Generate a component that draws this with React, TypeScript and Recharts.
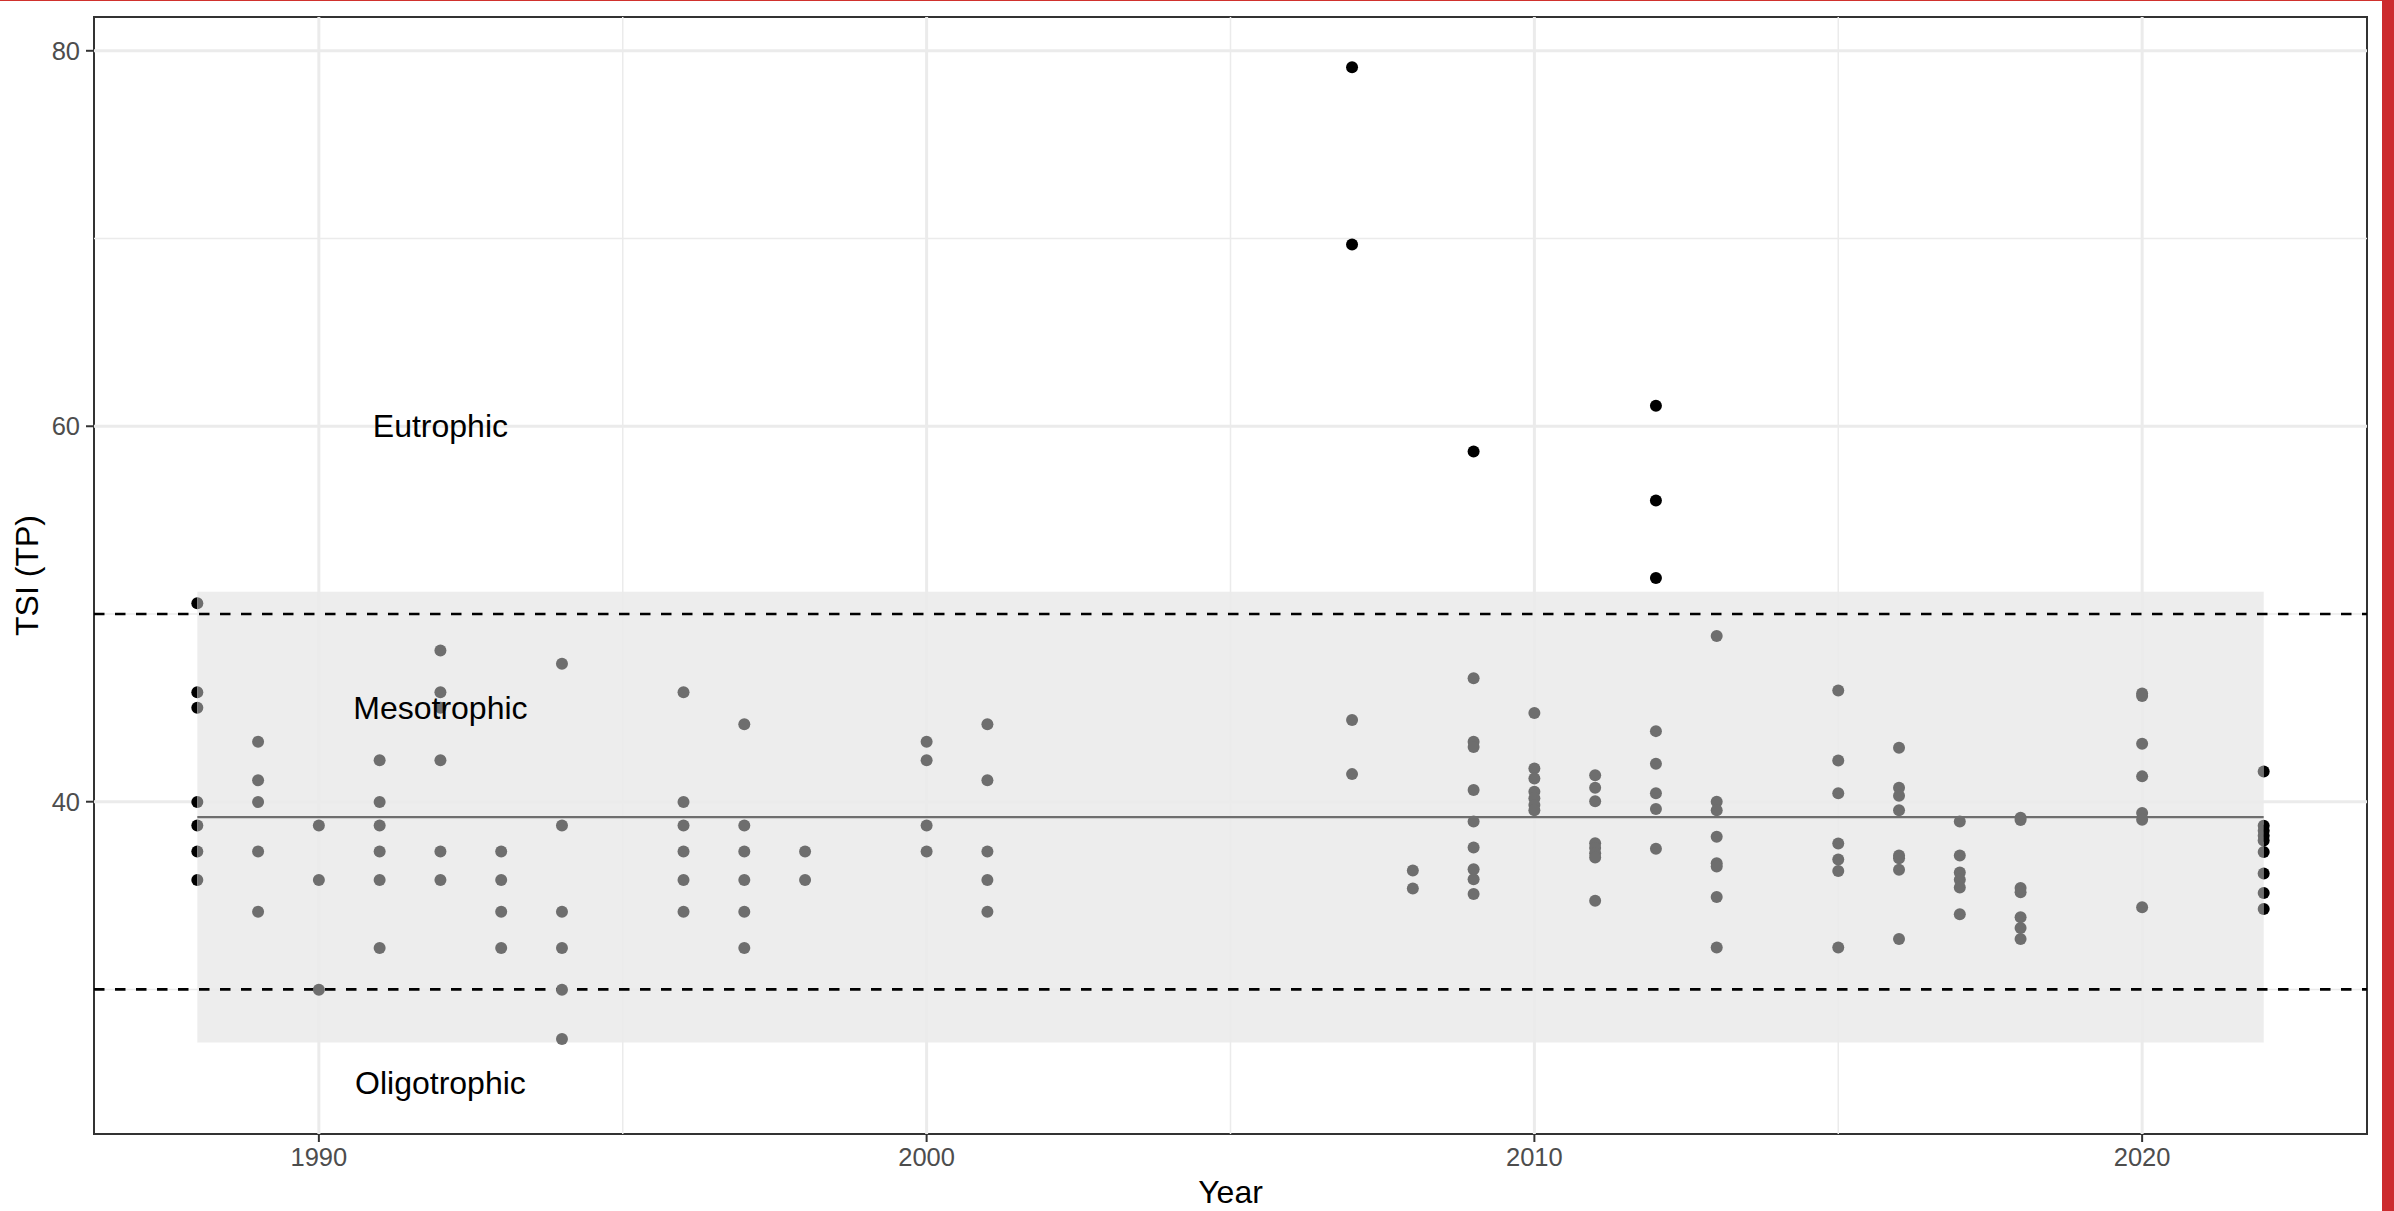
import React from 'react';
import { ScatterChart, Scatter, XAxis, YAxis, ReferenceLine, ReferenceArea, Label } from 'recharts';

// sampling years and the TSI (TP) readings for each one
const sampleYears = [1988, 1989, 1990, 1991, 1992, 1993, 1994, 1996, 1997, 1998, 2000, 2001, 2007, 2008, 2009, 2010, 2011, 2012, 2013, 2015, 2016, 2017, 2018, 2020, 2022];
const tsiByYear: number[][] = [
  [50.57, 45.83, 45.01, 39.98, 38.73, 37.35, 35.83],
  [43.2, 41.14, 39.98, 37.35, 34.14],
  [38.73, 35.83, 29.99],
  [42.21, 39.98, 38.73, 37.35, 35.83, 32.21],
  [48.05, 45.83, 45.01, 42.21, 37.35, 35.83],
  [37.35, 35.83, 34.14, 32.21],
  [47.35, 38.73, 34.14, 32.21, 29.99, 27.36],
  [45.83, 39.98, 38.73, 37.35, 35.83, 34.14],
  [44.13, 38.73, 37.35, 35.83, 34.14, 32.21],
  [37.35, 35.83],
  [43.2, 42.21, 38.73, 37.35],
  [44.13, 41.14, 37.35, 35.83, 34.14],
  [79.12, 69.68, 44.35, 41.47],
  [36.33, 35.38],
  [58.65, 46.58, 43.19, 42.92, 40.62, 38.94, 37.56, 36.4, 35.87, 35.09],
  [44.73, 41.77, 41.24, 40.53, 40.18, 39.82, 39.55],
  [41.41, 40.74, 40.03, 37.79, 37.53, 37.26, 37.03, 34.72],
  [61.09, 56.04, 51.92, 43.76, 42.02, 40.45, 39.61, 37.5],
  [48.83, 40.0, 39.55, 38.14, 36.72, 36.55, 34.92, 32.23],
  [45.92, 42.19, 40.45, 37.78, 36.92, 36.31, 32.23],
  [42.87, 40.74, 40.32, 39.55, 37.13, 36.99, 36.37, 32.69],
  [38.94, 37.13, 36.23, 35.84, 35.43, 34.01],
  [39.15, 39.02, 35.4, 35.18, 33.84, 33.27, 32.69],
  [45.77, 45.63, 43.09, 41.35, 39.4, 39.04, 34.38],
  [41.61, 38.72, 38.46, 38.19, 37.94, 37.32, 36.17, 35.14, 34.29],
];

const zoneNames = ['Eutrophic', 'Mesotrophic', 'Oligotrophic'];
const zoneTsi = [60, 45, 25];
const zoneYear = 1992;

const tsiMean = 39.18;
const bandLow = 27.18;
const bandHigh = 51.18;
const bandYears = [1988, 2022];
const thresholds = [50, 30];

const yearTicks = [1990, 2000, 2010, 2020];
const yearMinor = [1995, 2005, 2015];
const tsiTicks = [40, 60, 80];
const tsiMinor = [30, 50, 70];
const yearDomain = [1986.3, 2023.7];
const tsiDomain = [22.3, 81.8];

const points = sampleYears.flatMap((year, i) => tsiByYear[i].map((tsi) => ({ year, tsi })));
const zoneLabels = zoneNames.map((name, i) => ({ year: zoneYear, tsi: zoneTsi[i], name }));

const FONT = '"Liberation Sans", Arial, sans-serif';
const GRID = '#EBEBEB';
const SHADED = '#6E6E6E'; // black seen through the half-transparent band
const R = 6;

// the band sits over the points: inside it they read grey, and the points on
// its left/right edge are only half covered
function Dot(p: any) {
  const { cx, cy, payload } = p;
  const covered = payload.tsi >= bandLow && payload.tsi <= bandHigh;
  if (!covered) return <circle cx={cx} cy={cy} r={R} fill="#000" />;
  const left = `M${cx},${cy - R} A${R},${R} 0 0 0 ${cx},${cy + R} Z`;
  const right = `M${cx},${cy - R} A${R},${R} 0 0 1 ${cx},${cy + R} Z`;
  if (payload.year === bandYears[0]) {
    return (
      <g>
        <path d={left} fill="#000" />
        <path d={right} fill={SHADED} />
      </g>
    );
  }
  if (payload.year === bandYears[1]) {
    return (
      <g>
        <path d={left} fill={SHADED} />
        <path d={right} fill="#000" />
      </g>
    );
  }
  return <circle cx={cx} cy={cy} r={R} fill={SHADED} />;
}

export default function App() {
  return (
    <div style={{ position: 'absolute', left: 0, top: 0, width: 2394, height: 1211, background: '#fff' }}>
      <div style={{ position: 'absolute', left: 0, top: 0, width: 2382, height: 1, background: '#D0312D' }} />
      <div style={{ position: 'absolute', right: 0, top: 0, width: 12, height: 1211, background: '#CC2B2E' }} />
      <ScatterChart width={2394} height={1211} margin={{ top: 17, right: 27, bottom: 0, left: 0 }}>
        {yearMinor.map((y) => (
          <ReferenceLine key={'xm' + y} x={y} stroke={GRID} strokeWidth={1.5} />
        ))}
        {tsiMinor.map((v) => (
          <ReferenceLine key={'ym' + v} y={v} stroke={GRID} strokeWidth={1.5} />
        ))}
        {yearTicks.map((y) => (
          <ReferenceLine key={'xM' + y} x={y} stroke={GRID} strokeWidth={3} />
        ))}
        {tsiTicks.map((v) => (
          <ReferenceLine key={'yM' + v} y={v} stroke={GRID} strokeWidth={3} />
        ))}
        <XAxis
          type="number"
          dataKey="year"
          domain={yearDomain}
          ticks={yearTicks}
          allowDataOverflow
          height={77}
          axisLine={false}
          tickSize={8}
          tickMargin={6}
          tickLine={{ stroke: '#333333', strokeWidth: 2 }}
          tick={{ fill: '#4D4D4D', fontSize: 25.5, fontFamily: FONT }}
        >
          <Label
            content={({ viewBox }: any) => (
              <text x={viewBox.x + viewBox.width / 2} y={viewBox.y + 69} textAnchor="middle" fontSize={32} fontFamily={FONT} fill="#000">
                Year
              </text>
            )}
          />
        </XAxis>
        <YAxis
          type="number"
          dataKey="tsi"
          domain={tsiDomain}
          ticks={tsiTicks}
          allowDataOverflow
          width={94}
          axisLine={false}
          tickSize={8}
          tickMargin={6}
          tickLine={{ stroke: '#333333', strokeWidth: 2 }}
          tick={{ fill: '#4D4D4D', fontSize: 25.5, fontFamily: FONT }}
        >
          <Label
            content={({ viewBox }: any) => {
              const cy = viewBox.y + viewBox.height / 2;
              return (
                <text x={38} y={cy} transform={`rotate(-90, 38, ${cy})`} textAnchor="middle" fontSize={32} fontFamily={FONT} fill="#000">
                  TSI (TP)
                </text>
              );
            }}
          />
        </YAxis>
        <ReferenceArea
          x1={bandYears[0]}
          x2={bandYears[1]}
          y1={bandLow}
          y2={bandHigh}
          fill="#DBDBDB"
          fillOpacity={0.5}
          stroke="none"
        />
        <ReferenceLine
          segment={[{ x: bandYears[0], y: tsiMean }, { x: bandYears[1], y: tsiMean }]}
          stroke={SHADED}
          strokeWidth={2.4}
        />
        <Scatter data={points} isAnimationActive={false} shape={Dot} />
        {thresholds.map((v) => (
          <ReferenceLine key={'t' + v} y={v} stroke="#000" strokeWidth={2.7} strokeDasharray="10.5 10.5" />
        ))}
        <Scatter
          data={zoneLabels}
          isAnimationActive={false}
          shape={(p: any) => (
            <text x={p.cx} y={p.cy} textAnchor="middle" dominantBaseline="central" fontSize={32} fontFamily={FONT} fill="#000">
              {p.payload.name}
            </text>
          )}
        />
        <ReferenceArea
          x1={yearDomain[0]}
          x2={yearDomain[1]}
          y1={tsiDomain[0]}
          y2={tsiDomain[1]}
          fill="none"
          stroke="#333333"
          strokeWidth={2}
        />
      </ScatterChart>
    </div>
  );
}
